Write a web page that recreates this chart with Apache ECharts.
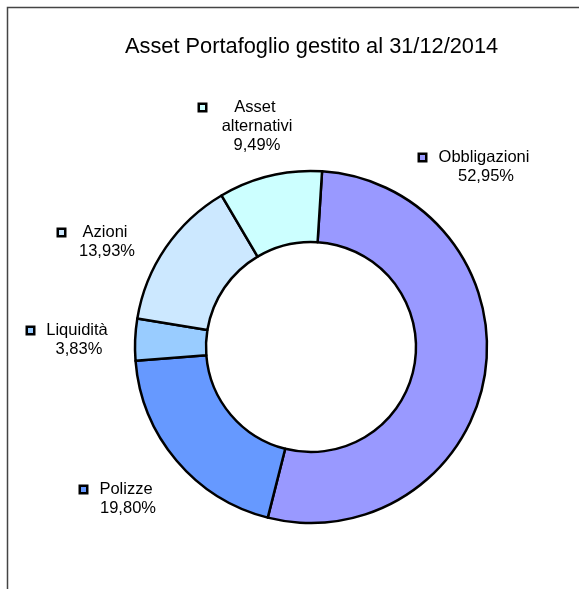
<!DOCTYPE html>
<html>
<head>
<meta charset="utf-8">
<script src="https://cdn.jsdelivr.net/npm/echarts@6/dist/echarts.min.js"></script>
<style>
  html, body { margin: 0; padding: 0; background: #fff; }
  #chart { width: 579px; height: 589px; }
</style>
</head>
<body>
<div id="chart"></div>
<script>
// dati del grafico
var titolo = 'Asset Portafoglio gestito al 31/12/2014';
var categorie = ['Obbligazioni', 'Polizze', 'Liquidità', 'Azioni', 'Asset alternativi'];
var righeNome = [['Obbligazioni'], ['Polizze'], ['Liquidità'], ['Azioni'], ['Asset', 'alternativi']];
var percentuali = [52.95, 19.80, 3.83, 13.93, 9.49];

var colori = ['#9999FF', '#6699FF', '#99CCFF', '#CCE8FF', '#CCFFFF'];
// posizione etichette (angolo alto-sinistra del quadratino) e larghezza del blocco testo
var posEtichette = [[420, 148], [81, 480], [28, 321], [59, 223], [200, 98]];
var largTesto = [92, 54, 62, 56, 74];

var chart = echarts.init(document.getElementById('chart'));

var rich = {
    sp: { width: 11 }, ind: { width: 20 }
};
colori.forEach(function (c, i) {
    rich['m' + i] = {
        width: 5, height: 5, backgroundColor: c,
        borderColor: '#000', borderWidth: 2.5
    };
    rich['t' + i] = {
        width: largTesto[i], align: 'center',
        fontSize: 16.5, lineHeight: 19, color: '#000',
        fontFamily: 'Liberation Sans, Arial, sans-serif'
    };
});

var option = {
    animation: false,
    backgroundColor: '#fff',
    title: {
        text: titolo,
        left: 120,
        top: 31,
        textStyle: {
            fontSize: 21.8,
            fontWeight: 'normal',
            color: '#000',
            fontFamily: 'Liberation Sans, Arial, sans-serif'
        }
    },
    graphic: [{
        type: 'polyline',
        shape: { points: [[7.5, 600], [7.5, 7.5], [600, 7.5]] },
        style: { stroke: '#444', lineWidth: 1.5, fill: null },
        silent: true
    }],
    series: [{
        type: 'pie',
        center: [311, 347],
        radius: [105, 176],
        startAngle: 86.4,
        clockwise: true,
        avoidLabelOverlap: false,
        itemStyle: { borderColor: '#000', borderWidth: 2.5 },
        label: {
            show: true,
            position: 'outside',
            rich: rich,
            formatter: function (p) {
                var i = p.dataIndex;
                var righe = righeNome[i].slice();
                righe.push(percentuali[i].toFixed(2).replace('.', ',') + '%');
                return righe.map(function (r, k) {
                    var pre = k === 0 ? '{m' + i + '|}{sp|}' : '{ind|}';
                    return pre + '{t' + i + '|' + r + '}';
                }).join('\n');
            }
        },
        labelLine: { show: false },
        labelLayout: function (p) {
            var pos = posEtichette[p.dataIndex];
            return { x: pos[0], y: pos[1], align: 'left', verticalAlign: 'top' };
        },
        emphasis: { disabled: true },
        data: categorie.map(function (nome, i) {
            return { name: nome, value: percentuali[i], itemStyle: { color: colori[i] } };
        })
    }]
};

chart.setOption(option);
</script>
</body>
</html>
